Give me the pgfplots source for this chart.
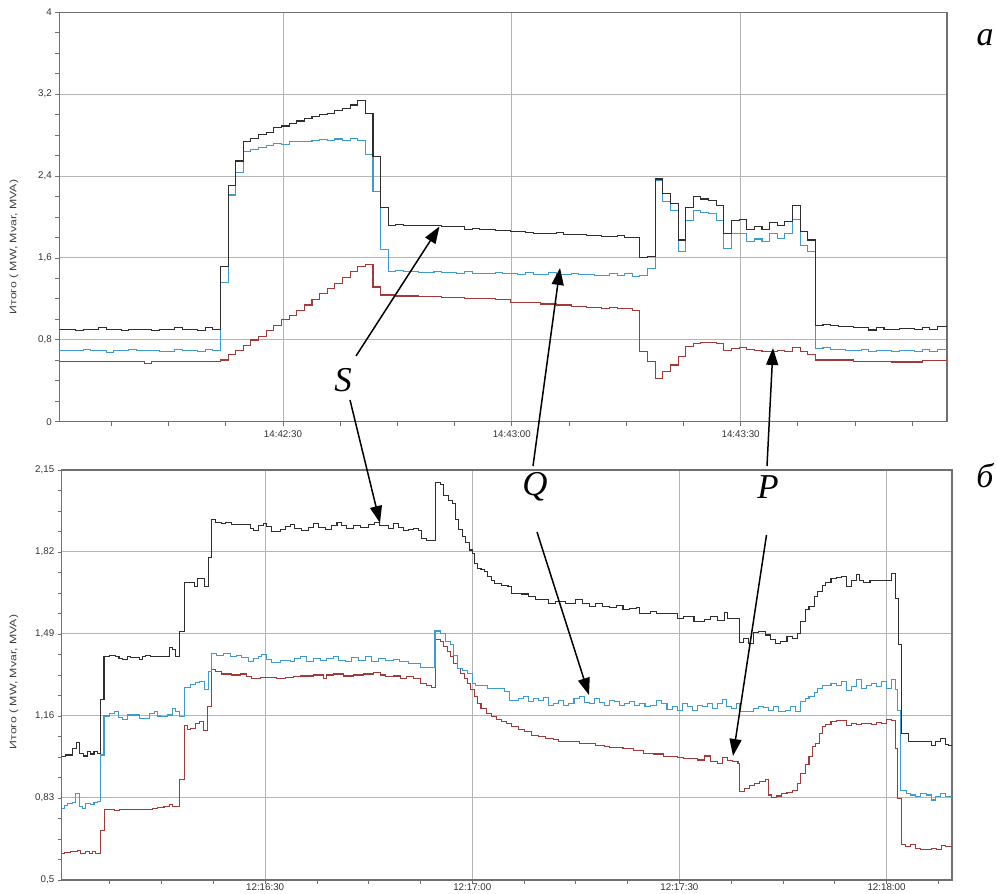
\documentclass[border=0pt]{standalone}
\usepackage{pgfplots}
\pgfplotsset{compat=1.18}
\usepackage{fontspec}
\setmainfont{Liberation Sans}
\newfontfamily\serifit{Liberation Serif}
\usetikzlibrary{arrows.meta}
\definecolor{cS}{HTML}{2E2E2E}
\definecolor{cQ}{HTML}{3E9BCF}
\definecolor{cP}{HTML}{A33A3A}
\definecolor{gridc}{HTML}{B4B4B4}
\definecolor{framec}{HTML}{707070}
\pgfplotsset{
  panel/.style={
    scale only axis, anchor=south west,
    axis line style={draw=framec, line width=1.4bp},
    grid=major, major grid style={draw=gridc, line width=1bp},
    tick align=outside, tick style={draw=framec, line width=0.8bp},
    major tick length=4bp, minor tick length=4bp,
    xtick pos=bottom, ytick pos=left,
    tick label style={font=\fontsize{9.8}{11}\selectfont, text=black!80},
    clip=true,
  },
  ser/.style={const plot, line width=1.05bp, no marks},
}
\begin{document}
\begin{tikzpicture}
\path[use as bounding box] (0,0) rectangle (998bp,894bp);
% ---------- top panel (a)
\begin{axis}[panel, at={(59.3bp,472.3bp)}, width=887.7bp, height=409.4bp,
  xmin=0.67, xmax=117.06, ymin=0, ymax=4,
  xtick={30,60,90}, xticklabels={14:42:30,14:43:00,14:43:30},
  xticklabel style={yshift=-1bp},
  minor xtick={7.5,15,22.5,37.5,45,52.5,67.5,75,82.5,97.5,105,112.5},
  ytick={0,0.8,1.6,2.4,3.2,4}, yticklabels={0,{0,8},{1,6},{2,4},{3,2},4},
  minor ytick={0.2,0.4,0.6,1,1.2,1.4,1.8,2,2.2,2.6,2.8,3,3.4,3.6,3.8}]
\addplot[ser, cP] coordinates {(0.5,0.586)(11.8,0.57)(12.8,0.586)(21.8,0.603)(22.8,0.652)(23.8,0.70)(24.8,0.749)(25.8,0.798)(26.8,0.837)(27.8,0.889)(28.8,0.938)(29.8,0.994)(30.8,1.042)(31.8,1.091)(32.8,1.14)(33.8,1.196)(34.8,1.248)(35.8,1.297)(36.8,1.352)(37.8,1.41)(38.8,1.466)(39.8,1.515)(40.8,1.538)(41.8,1.316)(42.8,1.238)(44.8,1.228)(47.8,1.225)(50.8,1.218)(53.8,1.205)(55.8,1.2)(57.8,1.19)(59.8,1.165)(61.8,1.16)(63.8,1.15)(65.8,1.14)(67.8,1.13)(69.8,1.12)(71.8,1.11)(72.8,1.114)(73.8,1.108)(75.8,1.09)(76.8,0.684)(77.8,0.586)(78.8,0.424)(79.8,0.489)(80.8,0.554)(81.8,0.635)(82.8,0.733)(83.8,0.766)(84.8,0.772)(86.8,0.766)(87.8,0.694)(88.8,0.717)(89.8,0.723)(90.8,0.707)(91.8,0.70)(92.8,0.69)(94.8,0.70)(95.8,0.69)(96.8,0.723)(97.8,0.684)(98.8,0.652)(99.8,0.603)(104.8,0.59)(109.8,0.583)(113.8,0.60)(118,0.60)};
\addplot[ser, cQ] coordinates {(0.5,0.692)(3.8,0.706)(4.8,0.692)(6.8,0.68)(7.8,0.692)(9.8,0.706)(10.8,0.692)(12.8,0.70)(13.8,0.685)(15.8,0.706)(16.8,0.692)(18.8,0.682)(19.8,0.706)(20.8,0.692)(21.8,1.358)(22.8,2.215)(23.8,2.433)(24.8,2.638)(25.8,2.66)(26.8,2.681)(27.8,2.694)(28.8,2.72)(29.8,2.71)(30.8,2.733)(31.8,2.735)(32.8,2.74)(33.8,2.752)(34.8,2.756)(35.8,2.75)(36.8,2.762)(37.8,2.745)(38.8,2.765)(39.8,2.745)(40.8,2.606)(41.8,2.247)(42.8,1.678)(43.8,1.466)(44.8,1.475)(45.8,1.466)(46.8,1.47)(47.8,1.46)(49.8,1.47)(50.8,1.458)(52.8,1.452)(53.8,1.465)(54.8,1.45)(56.8,1.446)(57.8,1.46)(58.8,1.445)(60.8,1.44)(61.8,1.455)(62.8,1.44)(64.8,1.455)(65.8,1.438)(67.8,1.45)(68.8,1.435)(70.8,1.428)(72.8,1.445)(73.8,1.425)(74.8,1.45)(75.8,1.417)(76.8,1.428)(77.8,1.493)(78.8,2.355)(79.8,2.15)(80.8,2.068)(81.8,1.66)(82.8,1.97)(83.8,2.059)(84.8,2.04)(85.8,2.03)(86.8,1.97)(87.8,1.694)(88.8,1.84)(90.8,1.759)(91.8,1.785)(92.8,1.759)(93.8,1.84)(94.8,1.79)(95.8,1.84)(96.8,1.978)(97.8,1.726)(98.8,1.66)(99.8,0.717)(100.8,0.727)(101.8,0.71)(103.8,0.70)(105.8,0.708)(106.8,0.69)(107.8,0.70)(109.8,0.685)(110.8,0.70)(112.8,0.688)(113.8,0.705)(114.8,0.69)(115.8,0.71)(118,0.71)};
\addplot[ser, cS] coordinates {(0.5,0.905)(2.8,0.895)(3.8,0.905)(5.8,0.918)(6.8,0.905)(8.8,0.895)(9.8,0.905)(12.8,0.895)(13.8,0.905)(15.8,0.918)(16.8,0.905)(18.8,0.895)(19.8,0.918)(20.8,0.905)(21.8,1.515)(22.8,2.31)(23.8,2.547)(24.8,2.742)(25.8,2.77)(26.8,2.81)(27.8,2.824)(28.8,2.873)(29.8,2.889)(30.8,2.915)(31.8,2.938)(32.8,2.96)(33.8,2.98)(34.8,3.0)(35.8,3.013)(36.8,3.045)(37.8,3.06)(38.8,3.094)(39.8,3.136)(40.8,3.013)(41.8,2.589)(42.8,2.095)(43.8,1.915)(44.8,1.93)(45.8,1.915)(46.8,1.92)(47.8,1.915)(48.8,1.918)(49.8,1.915)(50.8,1.905)(53.8,1.88)(54.8,1.885)(55.8,1.876)(56.8,1.878)(57.8,1.872)(58.8,1.87)(59.8,1.855)(60.8,1.86)(61.8,1.85)(62.8,1.84)(63.8,1.842)(64.8,1.838)(65.8,1.845)(66.8,1.832)(67.8,1.826)(68.8,1.83)(69.8,1.822)(70.8,1.818)(71.8,1.812)(72.8,1.81)(73.8,1.822)(74.8,1.80)(76.8,1.602)(77.8,1.61)(78.8,2.371)(79.8,2.225)(80.8,2.134)(81.8,1.775)(82.8,2.095)(83.8,2.199)(84.8,2.176)(85.8,2.16)(86.8,2.11)(87.8,1.84)(88.8,1.97)(89.8,1.98)(90.8,1.88)(91.8,1.905)(92.8,1.88)(93.8,1.95)(94.8,1.92)(95.8,1.96)(96.8,2.11)(97.8,1.856)(98.8,1.775)(99.8,0.938)(100.8,0.951)(101.8,0.938)(102.8,0.928)(104.8,0.92)(106.8,0.896)(107.8,0.918)(108.8,0.905)(110.8,0.912)(112.8,0.905)(113.8,0.918)(114.8,0.905)(115.8,0.928)(118,0.928)};
\end{axis}
% ---------- bottom panel (b)
\begin{axis}[panel, at={(61.7bp,14bp)}, width=890.3bp, height=410bp,
  xmin=0.53, xmax=129.48, ymin=0.5, ymax=2.15,
  xtick={30,60,90,120}, xticklabels={12:16:30,12:17:00,12:17:30,12:18:00},
  xticklabel style={yshift=3.5bp},
  minor xtick={7.5,15,22.5,37.5,45,52.5,67.5,75,82.5,97.5,105,112.5,127.5},
  ytick={0.5,0.83,1.16,1.49,1.82,2.15}, yticklabels={{0,5},{0,83},{1,16},{1,49},{1,82},{2,15}},
  minor y tick num=3]
\addplot[ser, cP] coordinates {(0.14,0.605)(0.87,0.610)(1.83,0.614)(2.8,0.618)(3.28,0.607)(4.01,0.613)(4.49,0.605)(4.97,0.613)(5.46,0.605)(6.18,0.698)(6.76,0.782)(8.11,0.779)(8.84,0.782)(11.01,0.784)(13.66,0.788)(14.39,0.792)(15.35,0.795)(16.08,0.804)(16.56,0.795)(17.53,0.905)(18.25,1.120)(18.73,1.106)(19.22,1.110)(19.94,1.130)(20.42,1.137)(21.05,1.101)(21.63,1.197)(22.21,1.348)(22.74,1.338)(23.71,1.329)(25.16,1.325)(26.36,1.329)(27.33,1.318)(28.05,1.312)(29.26,1.316)(31.68,1.312)(32.88,1.316)(34.09,1.318)(35.06,1.321)(36.99,1.325)(38.44,1.312)(38.92,1.325)(39.88,1.329)(41.33,1.321)(42.78,1.325)(44.23,1.329)(45.68,1.334)(46.65,1.325)(47.37,1.318)(48.58,1.321)(49.54,1.312)(50.51,1.318)(51.48,1.312)(52.44,1.291)(53.4,1.281)(54.13,1.275)(54.71,1.466)(55.38,1.459)(55.87,1.439)(56.36,1.419)(56.85,1.399)(57.34,1.372)(57.83,1.352)(58.32,1.332)(58.81,1.312)(59.3,1.291)(59.79,1.265)(60.28,1.238)(60.77,1.211)(61.26,1.191)(61.99,1.171)(62.73,1.157)(63.46,1.147)(64.2,1.137)(64.93,1.128)(65.66,1.117)(66.64,1.106)(67.62,1.097)(68.6,1.083)(69.58,1.077)(70.56,1.070)(71.79,1.066)(72.52,1.057)(75.46,1.050)(77.91,1.043)(79.13,1.037)(79.87,1.034)(81.83,1.030)(83.3,1.023)(84.77,1.010)(86.24,1.007)(87.71,0.996)(89.67,0.994)(90.64,0.990)(92.6,0.983)(93.58,0.999)(94.56,0.976)(95.54,0.970)(96.28,0.994)(97.01,0.980)(97.75,0.976)(98.48,0.970)(98.73,0.856)(99.46,0.869)(100.2,0.882)(100.93,0.889)(101.66,0.896)(102.4,0.905)(102.89,0.842)(103.38,0.833)(104.11,0.838)(104.85,0.849)(105.58,0.851)(106.32,0.862)(107.05,0.889)(107.54,0.929)(108.28,0.963)(108.77,0.996)(109.26,1.037)(109.75,1.050)(110.24,1.090)(110.73,1.117)(111.22,1.124)(111.95,1.137)(112.69,1.141)(114.16,1.120)(114.89,1.128)(115.62,1.124)(116.36,1.130)(117.09,1.128)(117.83,1.124)(118.56,1.133)(119.3,1.128)(120.03,1.144)(120.77,1.141)(121.25,1.030)(121.64,0.829)(122.12,0.641)(122.7,0.634)(123.42,0.641)(124.15,0.627)(124.87,0.621)(126.56,0.627)(127.29,0.621)(128.01,0.637)(128.5,0.634)(130,0.634)};
\addplot[ser, cQ] coordinates {(0.14,0.788)(0.87,0.798)(1.35,0.808)(2.08,0.811)(2.56,0.849)(3.04,0.795)(3.52,0.788)(4.01,0.808)(4.73,0.802)(5.21,0.811)(5.70,0.815)(6.18,1.003)(6.66,1.160)(7.39,1.171)(8.11,1.177)(8.74,1.155)(9.32,1.147)(10.04,1.164)(11.73,1.150)(13.18,1.171)(13.91,1.177)(14.39,1.160)(14.87,1.157)(15.84,1.164)(16.56,1.191)(17.04,1.177)(17.53,1.157)(18.25,1.275)(19.22,1.285)(19.94,1.294)(20.42,1.298)(21.15,1.267)(21.73,1.338)(22.21,1.412)(22.98,1.405)(23.95,1.412)(24.92,1.399)(25.88,1.405)(26.6,1.396)(27.57,1.379)(28.3,1.392)(29.02,1.401)(29.5,1.409)(30.23,1.388)(30.95,1.375)(32.16,1.385)(33.6,1.379)(34.3,1.392)(35.06,1.399)(36.02,1.379)(36.99,1.392)(37.95,1.385)(38.92,1.392)(39.88,1.399)(40.61,1.385)(41.6,1.379)(42.5,1.396)(43.5,1.385)(44.5,1.399)(45.4,1.379)(46.4,1.392)(47.4,1.383)(48.6,1.388)(49.5,1.379)(50.75,1.372)(52.44,1.356)(54.6,1.502)(55.38,1.493)(56.11,1.459)(56.85,1.446)(57.34,1.405)(57.83,1.352)(58.56,1.345)(59.3,1.332)(60.03,1.291)(60.52,1.281)(62.24,1.271)(64.69,1.258)(65.42,1.224)(66.64,1.231)(67.38,1.238)(68.11,1.218)(68.85,1.231)(69.58,1.224)(70.32,1.234)(71.05,1.204)(71.79,1.211)(72.52,1.224)(73.26,1.204)(73.99,1.211)(74.73,1.231)(75.46,1.238)(76.2,1.214)(76.93,1.211)(77.66,1.231)(78.4,1.214)(79.13,1.204)(79.87,1.224)(80.6,1.218)(81.34,1.204)(82.07,1.211)(82.81,1.218)(83.54,1.204)(84.28,1.211)(85.01,1.198)(85.75,1.204)(86.73,1.224)(87.46,1.211)(88.2,1.187)(88.93,1.198)(89.67,1.184)(90.4,1.211)(91.13,1.198)(91.87,1.184)(92.6,1.204)(93.34,1.198)(94.07,1.211)(94.81,1.191)(95.54,1.211)(96.28,1.227)(96.77,1.198)(97.5,1.191)(98.24,1.211)(98.73,1.177)(100.69,1.191)(101.42,1.198)(102.16,1.195)(102.89,1.184)(103.62,1.198)(104.36,1.177)(105.34,1.184)(106.07,1.198)(106.81,1.177)(107.54,1.218)(108.28,1.231)(108.77,1.238)(109.5,1.254)(109.99,1.271)(110.73,1.281)(111.95,1.291)(112.69,1.281)(113.42,1.298)(114.16,1.262)(114.89,1.278)(115.62,1.305)(116.36,1.271)(117.09,1.281)(117.83,1.291)(118.56,1.278)(119.3,1.298)(120.03,1.271)(120.77,1.307)(121.25,1.265)(121.64,1.184)(121.98,0.862)(122.94,0.849)(123.42,0.842)(124.15,0.835)(124.87,0.849)(125.84,0.842)(126.56,0.822)(127.05,0.835)(127.77,0.849)(128.5,0.835)(130,0.835)};
\addplot[ser, cS] coordinates {(0.14,0.996)(1.11,1.003)(2.08,1.030)(2.65,1.053)(3.14,1.010)(3.62,0.999)(4.25,1.016)(4.73,1.007)(5.21,1.016)(5.70,1.010)(6.18,1.227)(6.66,1.399)(7.39,1.405)(8.35,1.399)(8.83,1.392)(9.32,1.388)(10.04,1.399)(10.53,1.395)(11.73,1.388)(12.22,1.399)(12.70,1.405)(13.42,1.399)(14.39,1.401)(16.08,1.436)(16.56,1.426)(17.04,1.401)(17.62,1.499)(18.25,1.697)(19.70,1.680)(20.18,1.714)(21.15,1.683)(21.78,1.799)(22.26,1.949)(22.74,1.938)(23.71,1.933)(24.29,1.939)(25.16,1.929)(27.81,1.915)(28.30,1.908)(29.02,1.925)(29.75,1.935)(30.23,1.922)(30.95,1.902)(32.16,1.911)(32.88,1.922)(33.6,1.93)(34.3,1.915)(35.3,1.905)(36.3,1.92)(37.0,1.935)(37.7,1.92)(38.7,1.91)(39.6,1.925)(40.4,1.94)(41.1,1.925)(41.8,1.915)(42.8,1.925)(43.8,1.92)(45.0,1.93)(45.9,1.94)(46.6,1.925)(47.9,1.915)(48.6,1.935)(49.3,1.92)(50.0,1.908)(50.8,1.91)(51.5,1.915)(52.2,1.905)(52.68,1.875)(53.4,1.866)(54.71,2.099)(55.38,2.093)(55.87,2.049)(56.60,2.029)(57.09,2.016)(57.58,1.949)(58.07,1.911)(58.56,1.882)(59.05,1.857)(59.54,1.828)(60.03,1.815)(60.28,1.774)(60.77,1.754)(61.26,1.748)(61.75,1.741)(62.24,1.723)(62.73,1.707)(63.22,1.694)(64.20,1.687)(65.17,1.680)(65.66,1.654)(67.13,1.651)(68.11,1.640)(69.09,1.629)(70.07,1.627)(71.05,1.613)(72.03,1.620)(73.50,1.613)(74.97,1.627)(75.95,1.613)(76.93,1.600)(77.91,1.611)(78.89,1.600)(79.87,1.597)(80.85,1.603)(81.83,1.587)(82.81,1.593)(83.79,1.597)(84.28,1.573)(85.75,1.580)(86.73,1.573)(89.67,1.553)(90.64,1.560)(91.62,1.562)(92.11,1.540)(93.58,1.549)(94.56,1.560)(95.54,1.546)(96.52,1.576)(97.01,1.553)(98.73,1.455)(99.22,1.472)(99.95,1.452)(100.69,1.495)(101.42,1.499)(102.40,1.486)(103.13,1.466)(103.87,1.450)(104.60,1.459)(105.58,1.479)(106.32,1.473)(107.05,1.493)(107.54,1.540)(108.28,1.587)(108.77,1.600)(109.50,1.640)(109.99,1.660)(110.73,1.687)(111.22,1.697)(111.95,1.714)(112.69,1.718)(113.42,1.723)(114.16,1.680)(114.89,1.707)(115.62,1.731)(116.11,1.707)(116.6,1.696)(117.6,1.707)(118.6,1.705)(120.77,1.734)(121.25,1.633)(121.73,1.446)(122.12,1.09)(123.18,1.057)(126.56,1.040)(127.05,1.057)(127.77,1.070)(128.5,1.047)(128.98,1.043)(130,1.043)};
\end{axis}
% ---------- y labels
\node[rotate=90, text=black!75, font=\fontsize{9.5}{11}\selectfont] at (14bp,647bp) {\scalebox{1.3}[1]{Итого ( MW, Mvar, MVA)}};
\node[rotate=90, text=black!75, font=\fontsize{9.5}{11}\selectfont] at (14bp,212bp) {\scalebox{1.3}[1]{Итого ( MW, Mvar, MVA)}};
% ---------- panel letters
\node[font=\serifit\itshape\fontsize{34}{40}\selectfont] at (985bp,856bp) {a};
\node[font=\serifit\itshape\fontsize{34}{40}\selectfont] at (985bp,418bp) {б};
% ---------- annotations
\node[font=\serifit\itshape\fontsize{35}{40}\selectfont] at (343bp,514bp) {S};
\node[font=\serifit\itshape\fontsize{35}{40}\selectfont] at (535bp,407bp) {Q};
\node[font=\serifit\itshape\fontsize{35}{40}\selectfont] at (768bp,407bp) {P};
\begin{scope}[line width=1.5bp, -{Triangle[length=17bp,width=12bp]}]
\draw (356bp,538bp) -- (439.5bp,667.5bp);
\draw (350bp,494bp) -- (380bp,371bp);
\draw (533bp,428bp) -- (560bp,626bp);
\draw (537bp,362bp) -- (589bp,199bp);
\draw (767bp,428bp) -- (773bp,546bp);
\draw (766.5bp,359bp) -- (733bp,138bp);
\end{scope}
\end{tikzpicture}
\end{document}
